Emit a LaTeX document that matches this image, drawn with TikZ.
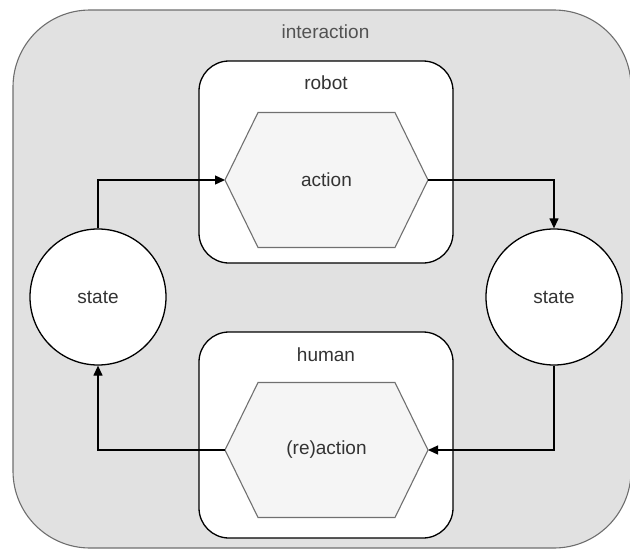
\documentclass[tikz,border=0pt]{standalone}
\usepackage{fontspec}
\setmainfont{Liberation Sans}
\usetikzlibrary{arrows.meta,calc}
\definecolor{panel}{HTML}{E1E1E1}
\definecolor{panelline}{HTML}{6E6E6E}
\definecolor{hexfill}{HTML}{F5F5F5}
\definecolor{hexline}{HTML}{707070}
\definecolor{ink}{HTML}{333333}
\tikzset{
  lbl/.style={font=\fontsize{19}{22}\selectfont, text=ink, inner sep=0pt},
  group/.style={draw=black, line width=1.3pt, fill=white, rounded corners=30pt},
  hexbody/.style={draw=hexline, line width=1.1pt, fill=hexfill},
  hexspot/.style={minimum width=203pt, minimum height=135pt, inner sep=0pt, outer sep=0pt, lbl},
  statecircle/.style={circle, draw=black, line width=1.3pt, fill=white,
    minimum size=136pt, inner sep=0pt, lbl},
  flow/.style={draw=black, line width=1.3pt,
    -{Triangle[length=10pt, width=9pt]}},
}
% filled hexagon spanning the box of an existing node; side tips inset by 33pt
\newcommand{\hexof}[1]{%
  \path[hexbody] (#1.west) -- ([xshift=33pt]#1.north west) -- ([xshift=-33pt]#1.north east)
    -- (#1.east) -- ([xshift=-33pt]#1.south east) -- ([xshift=33pt]#1.south west) -- cycle;
}
\begin{document}
\begin{tikzpicture}[x=1pt, y=-1pt]
  \useasboundingbox (0,0) rectangle (630,549);

  % outer interaction panel
  \path[fill=panel, draw=panelline, line width=1.1pt, rounded corners=77pt]
    (13,10) rectangle (631,548);
  \node[lbl, text=ink!85] (tinter) at (325.5,32) {interaction};

  % robot group
  \path[group] (199,61) rectangle (453,263);
  \node[lbl] (trobot) at (326,83) {robot};
  \node[hexspot] (act) at (326.5,180) {};
  \hexof{act}
  \node[lbl] (tact) at (act.center) {action};

  % human group
  \path[group] (199,332) rectangle (453,538);
  \node[lbl] (thuman) at (326,355) {human};
  \node[hexspot] (react) at (326.5,450) {};
  \hexof{react}
  \node[lbl] (treact) at (react.center) {(re)action};

  % state circles
  \node[statecircle] (sl) at (98,297) {state};
  \node[statecircle] (sr) at (554,297) {state};

  % the loop
  \draw[flow] (sl.north) |- (act.west);
  \draw[flow] (act.east) -| (sr.north);
  \draw[flow] (sr.south) |- (react.east);
  \draw[flow] (react.west) -| (sl.south);
\end{tikzpicture}
\end{document}
